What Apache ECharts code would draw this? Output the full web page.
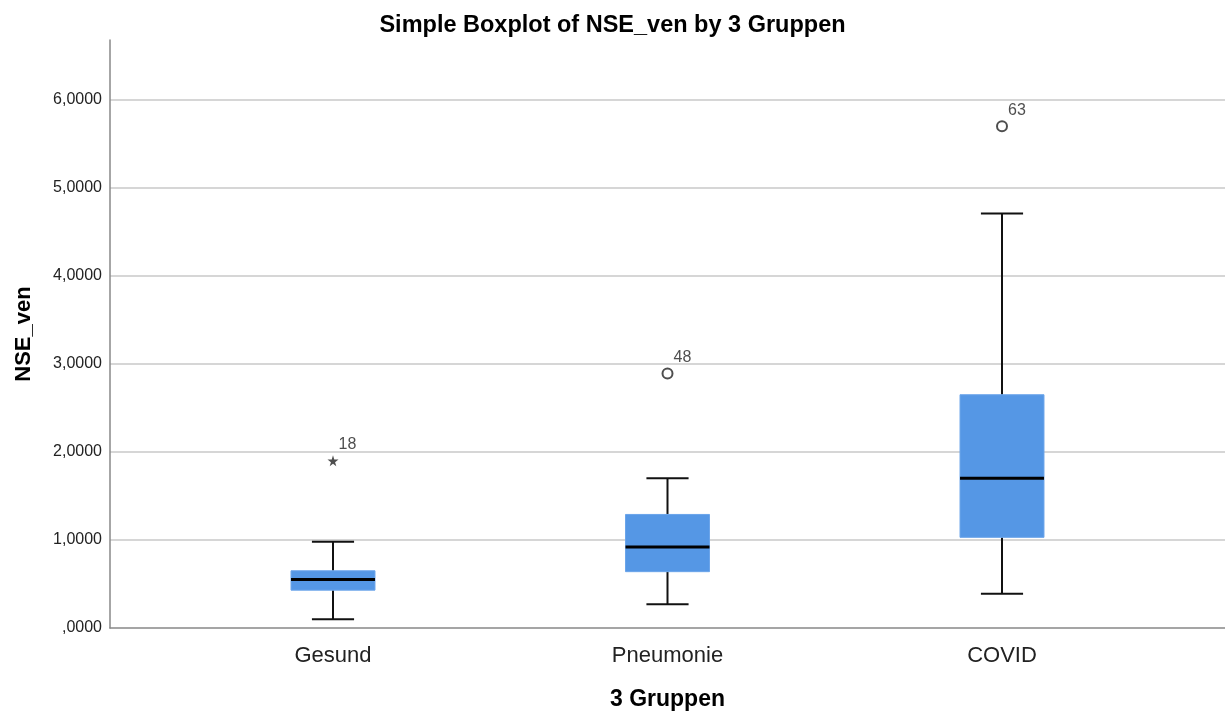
<!DOCTYPE html>
<html><head><meta charset="utf-8">
<script src="https://cdn.jsdelivr.net/npm/echarts@6/dist/echarts.min.js"></script>
<style>html,body{margin:0;padding:0;background:#fff}#c{width:1225px;height:716px}</style>
</head><body><div id="c"></div>
<script>
const categories = ['Gesund', 'Pneumonie', 'COVID'];
// [low whisker, Q1, median, Q3, high whisker]
const lowWhisker = [0.10, 0.27, 0.39];
const q1 = [0.43, 0.64, 1.03];
const median = [0.55, 0.92, 1.70];
const q3 = [0.65, 1.29, 2.65];
const highWhisker = [0.98, 1.70, 4.71];
const outlierValues = [1.90, 2.89, 5.70];
const outlierIds = ['18', '48', '63'];
const outlierExtreme = [true, false, false];
const yTicks = [0, 1, 2, 3, 4, 5, 6];

const FONT = 'Liberation Sans, Arial, sans-serif';
const boxData = categories.map((c, i) => [i + 1, lowWhisker[i], q1[i], median[i], q3[i], highWhisker[i]]);
const starPath = 'path://M50,0 L61,35 L98,35 L68,57 L79,91 L50,70 L21,91 L32,57 L2,35 L39,35 Z';
const outData = categories.map((c, i) => ({
  value: [i + 1, outlierValues[i]],
  symbol: outlierExtreme[i] ? starPath : 'emptyCircle',
  symbolSize: outlierExtreme[i] ? 11 : 10,
  itemStyle: outlierExtreme[i] ? { color: '#222', borderWidth: 0 } : { color: '#222', borderWidth: 1.6 },
  label: { formatter: outlierIds[i] }
}));

const chart = echarts.init(document.getElementById('c'));
chart.setOption({
  animation: false,
  backgroundColor: '#fff',
  title: {
    text: 'Simple Boxplot of NSE_ven by 3 Gruppen',
    left: 'center', top: 9,
    textStyle: { fontFamily: FONT, fontSize: 23.5, fontWeight: 'bold', color: '#000' }
  },
  grid: { left: 110, right: 0, top: 40, bottom: 85 },
  xAxis: {
    type: 'value', min: 1 / 3, max: 11 / 3,
    name: '3 Gruppen', nameLocation: 'middle', nameGap: 60,
    nameTextStyle: { fontFamily: FONT, fontSize: 23, fontWeight: 'bold', color: '#000' },
    axisLine: { show: true, lineStyle: { color: '#888', width: 1.5 } },
    axisTick: { show: false },
    splitLine: { show: false },
    axisLabel: {
      customValues: [1, 2, 3],
      formatter: v => categories[Math.round(v) - 1] || '',
      fontFamily: FONT, fontSize: 22, color: '#222', margin: 17
    }
  },
  yAxis: {
    type: 'value', min: 0, max: 6.68, interval: 1,
    name: 'NSE_ven', nameLocation: 'middle', nameGap: 75,
    nameTextStyle: { fontFamily: FONT, fontSize: 22, fontWeight: 'bold', color: '#000' },
    axisLine: { show: true, lineStyle: { color: '#888', width: 1.5 } },
    axisTick: { show: false },
    splitLine: { show: true, showMaxLine: false, showMinLine: false, lineStyle: { color: '#c8c8c8', width: 1.5 } },
    axisLabel: {
      customValues: yTicks,
      formatter: v => v === 0 ? ',0000' : v.toFixed(4).replace('.', ','),
      fontFamily: FONT, fontSize: 16, color: '#222', margin: 8
    }
  },
  series: [
    {
      type: 'custom',
      data: boxData,
      encode: { x: 0, y: [1, 2, 3, 4, 5] },
      renderItem: function (params, api) {
        const x = api.value(0);
        const pLow = api.coord([x, api.value(1)]);
        const pQ1 = api.coord([x, api.value(2)]);
        const pMed = api.coord([x, api.value(3)]);
        const pQ3 = api.coord([x, api.value(4)]);
        const pHigh = api.coord([x, api.value(5)]);
        const unit = api.size([1, 0])[0];
        const bw = unit * 0.251, cw = unit * 0.126;
        const cx = pMed[0];
        const blk = { stroke: '#111', lineWidth: 2 };
        return {
          type: 'group',
          children: [
            { type: 'line', shape: { x1: cx, y1: pLow[1], x2: cx, y2: pQ1[1] }, style: blk },
            { type: 'line', shape: { x1: cx, y1: pQ3[1], x2: cx, y2: pHigh[1] }, style: blk },
            { type: 'line', shape: { x1: cx - cw / 2, y1: pLow[1], x2: cx + cw / 2, y2: pLow[1] }, style: blk },
            { type: 'line', shape: { x1: cx - cw / 2, y1: pHigh[1], x2: cx + cw / 2, y2: pHigh[1] }, style: blk },
            { type: 'rect', shape: { x: cx - bw / 2, y: pQ3[1], width: bw, height: pQ1[1] - pQ3[1] }, style: { fill: '#5597E5', stroke: '#6aa4ea', lineWidth: 1 } },
            { type: 'line', shape: { x1: cx - bw / 2, y1: pMed[1], x2: cx + bw / 2, y2: pMed[1] }, style: { stroke: '#000', lineWidth: 3 } }
          ]
        };
      },
      z: 2
    },
    {
      type: 'scatter',
      data: outData,
      label: {
        show: true, position: 'right', offset: [-5, -16],
        fontFamily: FONT, fontSize: 16, color: '#222'
      },
      z: 3
    }
  ]
});
</script></body></html>
